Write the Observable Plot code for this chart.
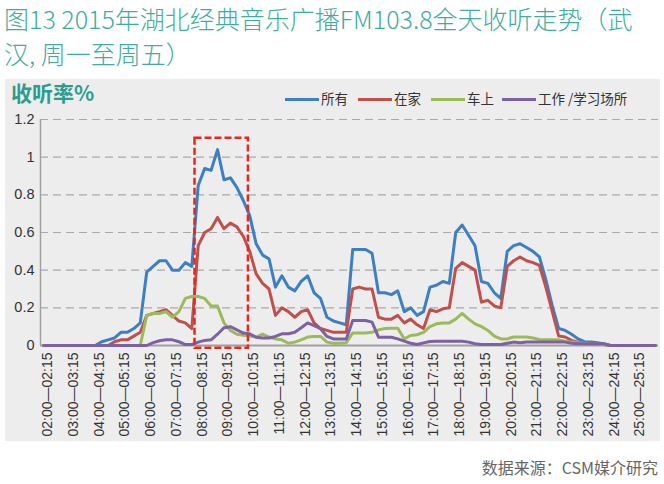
<!DOCTYPE html>
<html><head><meta charset="utf-8">
<script src="https://cdn.jsdelivr.net/npm/d3@7"></script>
<script src="https://cdn.jsdelivr.net/npm/@observablehq/plot@0.6"></script>
<style>
body{margin:0;background:#fff;}
#wrap{position:relative;width:664px;height:484px;overflow:hidden;font-family:"Noto Sans CJK SC","Noto Sans",sans-serif;}
#title{position:absolute;left:4px;top:1px;font-size:25px;line-height:35px;color:#3fad9f;font-weight:300;white-space:nowrap;}
#panel{position:absolute;left:5px;top:79px;width:655px;height:362px;background:#ededed;}
#ylab{position:absolute;left:11px;top:78px;font-size:21px;line-height:28px;font-weight:bold;color:#2a9d8f;}
.lg{position:absolute;top:89px;height:18px;font-size:13.5px;line-height:18px;color:#333;white-space:nowrap;}
.lg i{display:inline-block;width:34px;height:3px;vertical-align:middle;margin-right:2px;position:relative;top:-1px;}
#chart{position:absolute;left:0;top:80px;}
#source{position:absolute;right:6px;top:455px;font-size:16px;line-height:24px;color:#666;white-space:nowrap;}
</style>
</head><body>
<div id="wrap">
  <div id="title">图13 2015年湖北经典音乐广播FM103.8全天收听走势（武<br>汉, 周一至周五）</div>
  <div id="panel"></div>
  <div id="ylab">收听率%</div>
  <div id="legend"></div>
  <div id="chart"></div>
  <div id="source">数据来源：CSM媒介研究</div>
</div>
<script>
const tickLabels = ["02:00—02:15","03:00—03:15","04:00—04:15","05:00—05:15","06:00—06:15","07:00—07:15",
"08:00—08:15","09:00—09:15","10:00—10:15","11:00—11:15","12:00—12:15","13:00—13:15",
"14:00—14:15","15:00—15:15","16:00—16:15","17:00—17:15","18:00—18:15","19:00—19:15",
"20:00—20:15","21:00—21:15","22:00—22:15","23:00—23:15","24:00—24:15","25:00—25:15"];
const seriesNames = ["所有","在家","车上","工作 /学习场所"];
const seriesColors = ["#3c7fc2","#c0504d","#9bbb59","#7e60a4"];

const allListeners = [0,0,0,0,0,0,0,0,
0,0.02,0.03,0.04,0.07,0.07,0.09,0.12,0.39,0.42,0.45,0.45,0.40,0.40,0.44,0.42,
0.85,0.94,0.93,1.04,0.88,0.89,0.84,0.77,0.69,0.54,0.48,0.46,0.31,0.37,0.31,0.29,
0.34,0.37,0.28,0.25,0.15,0.13,0.12,0.11,0.51,0.51,0.51,0.49,0.28,0.28,0.27,0.29,
0.18,0.20,0.16,0.18,0.31,0.32,0.34,0.33,0.60,0.64,0.585,0.53,0.34,0.33,0.28,0.25,
0.50,0.53,0.54,0.52,0.50,0.47,0.35,0.21,0.09,0.08,0.06,0.035,0.02,0.018,0.014,0.01,
0,0,0,0,0,0,0,0];
const atHome = [0,0,0,0,0,0,0,0,0,0,0,
0.02,0.03,0.03,0.05,0.07,0.16,0.17,0.18,0.19,0.16,0.13,0.12,0.09,
0.53,0.60,0.62,0.68,0.62,0.65,0.63,0.58,0.50,0.38,0.33,0.30,0.16,0.20,0.18,0.15,
0.18,0.19,0.12,0.09,0.08,0.07,0.07,0.07,0.30,0.31,0.30,0.30,0.15,0.14,0.14,0.16,
0.12,0.14,0.11,0.09,0.19,0.18,0.195,0.20,0.41,0.44,0.42,0.40,0.23,0.24,0.21,0.20,
0.42,0.45,0.47,0.45,0.44,0.425,0.31,0.18,0.05,0.045,0.027,0.018,0.012,0.01,0.008,0.005,
0,0,0,0,0,0,0,0];
const inCar = [0,0,0,0,0,0,0,0,0,0,0,0,0,0,0,0,
0.16,0.17,0.17,0.18,0.15,0.18,0.25,0.26,
0.26,0.25,0.21,0.21,0.12,0.08,0.06,0.055,0.05,0.045,0.06,0.045,0.035,0.03,0.012,0.018,
0.03,0.045,0.048,0.048,0.018,0.012,0.012,0.015,0.067,0.067,0.067,0.07,0.083,0.09,0.092,0.092,
0.035,0.053,0.057,0.07,0.10,0.115,0.12,0.12,0.14,0.17,0.14,0.115,0.10,0.08,0.05,0.035,
0.035,0.045,0.045,0.045,0.04,0.032,0.03,0.03,0.03,0.023,0.018,0.014,0.012,0.01,0.008,0.005,
0,0,0,0,0,0,0,0];
const atWork = [0,0,0,0,0,0,0,0,0,0,0,0,0,0,0,0,0,
0.015,0.025,0.03,0.03,0.02,0.005,0.005,
0.018,0.027,0.03,0.06,0.094,0.10,0.083,0.066,0.062,0.044,0.04,0.04,0.048,0.062,0.062,0.07,
0.094,0.12,0.106,0.089,0.048,0.035,0.035,0.035,0.133,0.133,0.133,0.124,0.044,0.044,0.044,0.035,
0.023,0.012,0.005,0.014,0.021,0.023,0.023,0.023,0.023,0.023,0.018,0.009,0.005,0.005,0.005,0.005,
0.012,0.018,0.015,0.018,0.018,0.018,0.018,0.018,0.018,0.018,0.012,0.009,0.009,0.009,0.009,0.009,
0,0,0,0,0,0,0,0];
const yTicks = [0,0.2,0.4,0.6,0.8,1,1.2];
const highlight = {from: "08:00—08:15", to: "10:00—10:15", top: 1.1};

const seriesValues = [allListeners, atHome, inCar, atWork];
const rows = [];
seriesValues.forEach((vals, s) => vals.forEach((v, i) => rows.push({i, v, s: seriesNames[s]})));
const n = allListeners.length;
const xTicks = tickLabels.map((_, j) => j * 4);
const hx1 = tickLabels.indexOf(highlight.from) * 4 - 0.5;
const hx2 = tickLabels.indexOf(highlight.to) * 4 - 0.2;

// legend
const lefts = [285, 358, 431, 502];
const legend = document.getElementById("legend");
seriesNames.forEach((name, k) => {
  const d = document.createElement("div");
  d.className = "lg";
  d.style.left = lefts[k] + "px";
  d.innerHTML = `<i style="background:${seriesColors[k]}"></i>${name}`;
  legend.appendChild(d);
});

const chart = Plot.plot({
  width: 664, height: 361,
  marginTop: 39, marginBottom: 96, marginLeft: 40, marginRight: 6,
  style: {background: "transparent", fontFamily: "'Liberation Sans', Arial, sans-serif", color: "#333"},
  x: {domain: [-0.5, n - 0.5]},
  y: {domain: [0, 1.2]},
  color: {domain: seriesNames, range: seriesColors},
  marks: [
    Plot.ruleY(yTicks.filter(d => d > 0), {stroke: "#a9a9a9", strokeWidth: 1.2, strokeDasharray: "8,5"}),
    Plot.ruleY([0], {stroke: "#a0a0a0", strokeWidth: 2}),
    Plot.ruleX([-0.5], {y1: 0, y2: 1.2, stroke: "#a0a0a0", strokeWidth: 1.5}),
    Plot.line(rows, {x: "i", y: "v", z: "s", stroke: "s", strokeWidth: 3, strokeLinejoin: "round"}),
    Plot.rect([highlight], {x1: () => hx1, x2: () => hx2, y1: () => -0.015, y2: d => d.top,
      fill: "none", stroke: "#e8261c", strokeWidth: 2.5, strokeDasharray: "7,3"}),
    Plot.axisY({ticks: yTicks, tickSize: 0, tickPadding: 6, fontSize: 14.5, label: null,
      tickFormat: d => String(+d.toFixed(1))}),
    Plot.axisX({ticks: xTicks, tickSize: 0, tickPadding: 7, tickRotate: -90, fontSize: 14, label: null,
      dx: 4, tickFormat: d => tickLabels[d / 4]})
  ]
});
document.getElementById("chart").appendChild(chart);
</script>
</body></html>
